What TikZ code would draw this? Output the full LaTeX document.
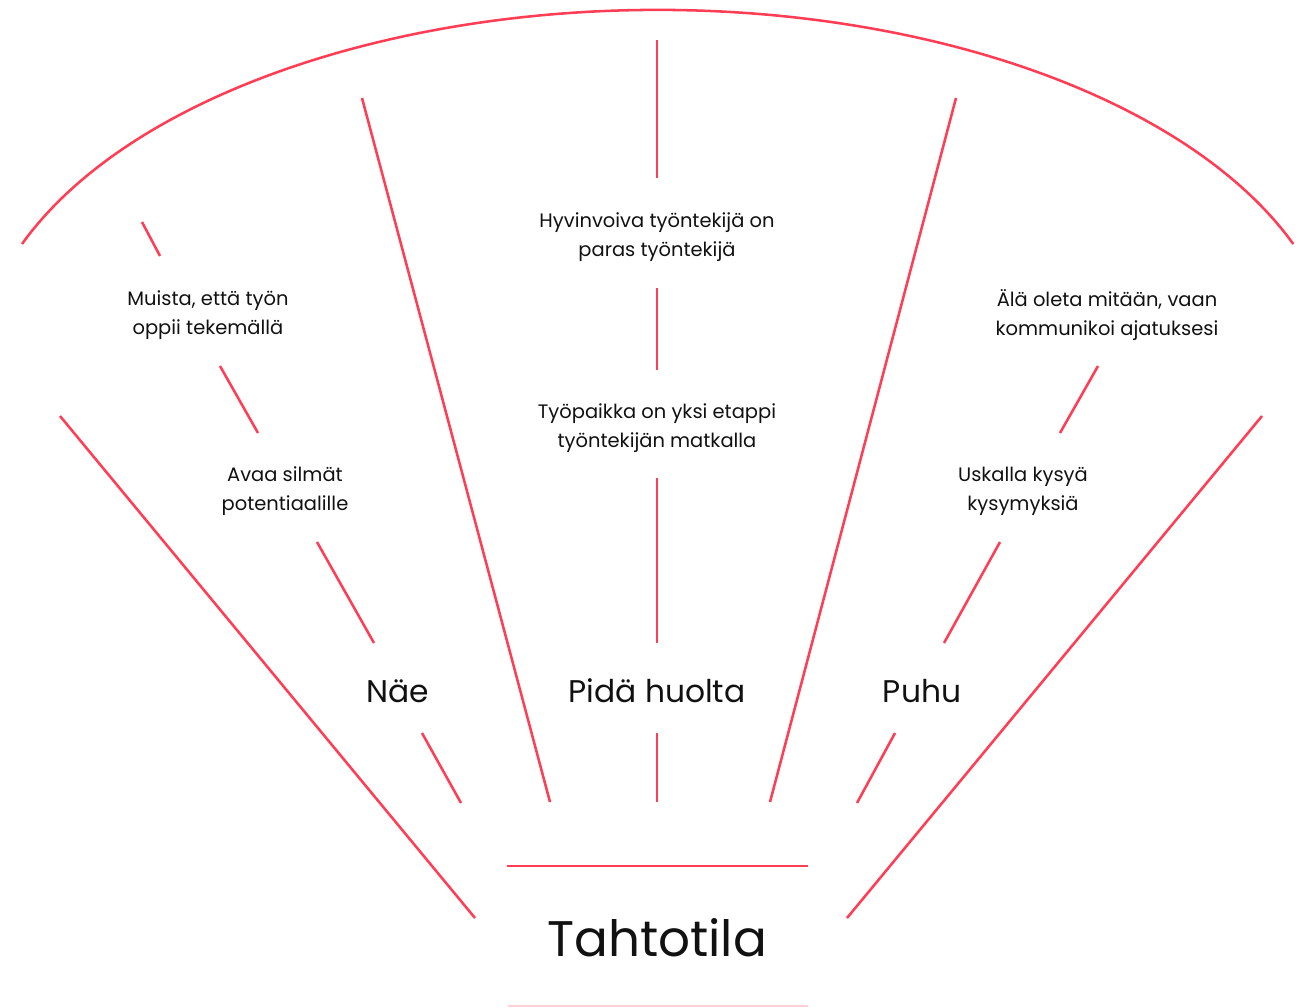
\documentclass[tikz,border=0pt]{standalone}
\usepackage{fontspec}
\setmainfont{Poppins}
\definecolor{red1}{HTML}{FF3D55}
\definecolor{pale}{HTML}{FFD0D6}
\definecolor{ink}{HTML}{111111}
\tikzset{
  ln/.style={draw=red1, line width=1.9pt},
  small/.style={font=\fontsize{14.6}{21.75}\selectfont, align=center, text=ink, inner sep=0pt},
  mid/.style={font=\fontsize{23.5}{28}\selectfont, text=ink, inner sep=0pt},
  big/.style={font=\fontsize{37.5}{45}\selectfont, text=ink, inner sep=0pt}
}
\begin{document}
\begin{tikzpicture}[x=0.75pt,y=-0.75pt]
\useasboundingbox (0,0) rectangle (1306,1007);
% arc
\coordinate (arcL) at (22,244);
\draw[ln] (arcL) arc[start angle=-158.97, end angle=-21.03, x radius=681, y radius=365];
% outer lines
\coordinate (oL1) at (60,416); \coordinate (oL2) at (475,918);
\coordinate (oR1) at (1262,416); \coordinate (oR2) at (847,918);
\draw[ln] (oL1) -- (oL2);
\draw[ln] (oR1) -- (oR2);
% inner long
\coordinate (iL1) at (362,98); \coordinate (iL2) at (550,802);
\coordinate (iR1) at (956,98); \coordinate (iR2) at (770,802);
\draw[ln] (iL1) -- (iL2);
\draw[ln] (iR1) -- (iR2);
% centre segments
\coordinate (c1a) at (657,40);  \coordinate (c1b) at (657,178);
\coordinate (c2a) at (657,288); \coordinate (c2b) at (657,370);
\coordinate (c3a) at (657,478); \coordinate (c3b) at (657,643);
\coordinate (c4a) at (657,733); \coordinate (c4b) at (657,802);
\draw[ln] (c1a) -- (c1b);
\draw[ln] (c2a) -- (c2b);
\draw[ln] (c3a) -- (c3b);
\draw[ln] (c4a) -- (c4b);
% horizontal
\coordinate (h1a) at (507,866); \coordinate (h1b) at (808,866);
\draw[ln] (h1a) -- (h1b);
\coordinate (h2a) at (508,1006); \coordinate (h2b) at (808,1006);
\draw[draw=pale, line width=1.5pt] (h2a) -- (h2b);
% left chain
\coordinate (l1a) at (142,222); \coordinate (l1b) at (160,256);
\coordinate (l2a) at (220,366); \coordinate (l2b) at (258,433);
\coordinate (l3a) at (317,542); \coordinate (l3b) at (374,643);
\coordinate (l4a) at (422,733); \coordinate (l4b) at (461,803);
\draw[ln] (l1a) -- (l1b);
\draw[ln] (l2a) -- (l2b);
\draw[ln] (l3a) -- (l3b);
\draw[ln] (l4a) -- (l4b);
% right chain
\coordinate (r2a) at (1098,366); \coordinate (r2b) at (1060,433);
\coordinate (r3a) at (1000,542); \coordinate (r3b) at (944,643);
\coordinate (r4a) at (895,733);  \coordinate (r4b) at (857,803);
\draw[ln] (r2a) -- (r2b);
\draw[ln] (r3a) -- (r3b);
\draw[ln] (r4a) -- (r4b);
% texts
\node[small] (muista) at (208,315) {Muista, että työn\\oppii tekemällä};
\node[small] (avaa) at (285,491) {Avaa silmät\\potentiaalille};
\node[small] (hyvin) at (657,237) {Hyvinvoiva työntekijä on\\paras työntekijä};
\node[small] (tyopaikka) at (657,428) {Työpaikka on yksi etappi\\työntekijän matkalla};
\node[small] (ala) at (1107,315) {Älä oleta mitään, vaan\\kommunikoi ajatuksesi};
\node[small] (uskalla) at (1023,491) {Uskalla kysyä\\kysymyksiä};
\node[mid] (nae) at (398,691) {Näe};
\node[mid] (pida) at (657,691) {Pidä huolta};
\node[mid] (puhu) at (922,691) {Puhu};
\node[big] (tahto) at (657,938) {Tahtotila};
\end{tikzpicture}
\end{document}
